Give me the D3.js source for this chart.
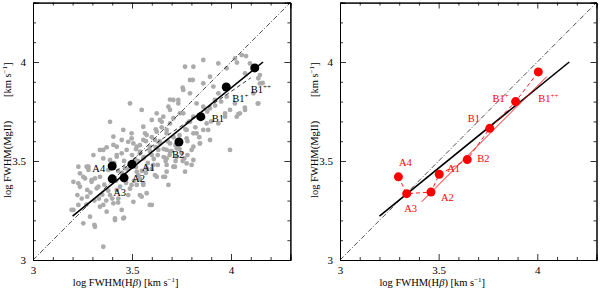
<!DOCTYPE html>
<html>
<head>
<meta charset="utf-8">
<script src="https://cdn.jsdelivr.net/npm/d3@7"></script>
<style>
  body { margin: 0; background: #fff; }
  text { font-family: "Liberation Serif", "DejaVu Serif", serif; }
</style>
</head>
<body>
<div id="chart"></div>
<script>
// Tick values
var majorTicks = [3, 3.5, 4];
var minorTicks = [3.1, 3.2, 3.3, 3.4, 3.6, 3.7, 3.8, 3.9, 4.1, 4.2];

// Gray sample, [log FWHM(Hb), log FWHM(MgII)]
var samplePts = [
  [3.195,3.253],[3.229,3.278],[3.246,3.31],[3.224,3.328],[3.274,3.32],[3.288,3.219],[3.31,3.177],
  [3.237,3.37],[3.274,3.354],[3.296,3.395],[3.28,3.455],[3.338,3.42],[3.322,3.362],[3.333,3.31],
  [3.355,3.278],[3.372,3.244],[3.338,3.269],[3.414,3.21],[3.46,3.214],[3.448,3.253],[3.406,3.286],
  [3.431,3.31],[3.389,3.328],[3.423,3.354],[3.481,3.328],[3.507,3.294],[3.54,3.328],[3.59,3.278],
  [3.498,3.379],[3.557,3.379],[3.625,3.42],[3.658,3.42],[3.675,3.446],[3.709,3.471],[3.756,3.5],
  [3.764,3.513],[3.801,3.48],[3.675,3.513],[3.608,3.48],[3.574,3.463],[3.6,3.53],[3.557,3.513],
  [3.524,3.446],[3.515,3.505],[3.54,3.547],[3.633,3.556],[3.692,3.547],[3.726,3.564],[3.229,3.471],
  [3.254,3.42],[3.204,3.395],[3.38,3.455],[3.338,3.556],[3.355,3.513],[3.389,3.505],[3.448,3.539],
  [3.473,3.556],[3.423,3.572],[3.204,3.253],[3.254,3.185],[3.313,3.168],[3.355,3.067],[3.414,3.202],
  [3.456,3.21],[3.6,3.278],[3.549,3.32],[3.574,3.337],[3.229,3.387],[3.263,3.412],[3.28,3.471],
  [3.313,3.412],[3.423,3.53],[3.465,3.463],[3.524,3.379],[3.532,3.429],[3.557,3.387],[3.616,3.429],
  [3.49,3.791],[3.549,3.758],[3.389,3.698],[3.456,3.657],[3.481,3.597],[3.574,3.631],[3.625,3.648],
  [3.675,3.657],[3.641,3.707],[3.709,3.716],[3.759,3.741],[3.793,3.698],[3.81,3.64],[3.776,3.614],
  [3.86,3.657],[3.843,3.589],[3.801,3.556],[3.726,3.522],[3.355,3.556],[3.305,3.53],[3.271,3.471],
  [3.237,3.438],[3.296,3.404],[3.423,3.522],[3.54,3.539],[3.59,3.572],[3.641,3.589],[3.692,3.589],
  [3.675,3.556],[3.507,3.589],[3.448,3.606],[3.406,3.623],[3.498,3.64],[3.557,3.673],[3.6,3.707],
  [3.625,3.741],[3.684,3.774],[3.734,3.791],[3.81,3.976],[3.86,4.01],[3.734,3.808],[3.793,3.909],
  [3.86,3.892],[3.894,3.926],[3.936,3.993],[3.978,3.968],[4.02,4.018],[4.054,4.035],[4.096,3.993],
  [4.071,3.943],[4.138,3.918],[4.146,3.892],[4.113,3.842],[4.138,3.791],[4.071,3.758],[4.045,3.741],
  [4.02,3.791],[3.978,3.825],[3.936,3.842],[3.911,3.876],[3.919,3.808],[3.995,3.758],[3.97,3.724],
  [4.029,3.724],[3.894,3.766],[3.86,3.774],[3.826,3.791],[3.793,3.842],[3.759,3.859],[3.709,3.808],
  [3.692,3.758],[3.742,3.741],[3.81,3.724],[3.877,3.69],[3.936,3.69],[3.885,3.657],[3.826,3.64],
  [3.776,3.657],[3.692,3.69],[3.658,3.724],[3.675,3.64],[3.843,3.589],[3.894,3.606],[3.81,3.572],
  [3.995,3.556],[3.372,3.569],[3.406,3.581],[3.498,3.614],[3.566,3.64],[3.557,3.606],[3.524,3.572],
  [3.65,3.698],[3.616,3.606],[3.81,3.505],[3.776,3.488],[3.768,3.446],[3.667,3.42],[3.684,3.379],
  [3.717,3.471],[3.675,3.48],[3.768,3.976],[3.807,3.909],[3.692,3.81],[3.756,3.87],[4.076,4.03],
  [4.03,3.997],[4.146,3.934],[4.16,3.894],[4.135,3.79],[4.07,3.77],[4.037,3.737],
  [3.36,3.38],[3.38,3.35],[3.42,3.40],[3.44,3.37],[3.45,3.44],[3.47,3.39],[3.48,3.46],[3.52,3.47],
  [3.53,3.50],[3.55,3.45],[3.56,3.52],[3.58,3.49],[3.59,3.55],[3.61,3.51],[3.62,3.57],[3.63,3.53],
  [3.64,3.60],[3.66,3.56],[3.67,3.50],[3.68,3.60],[3.70,3.55],[3.71,3.62],[3.72,3.58],[3.74,3.63],
  [3.75,3.54],[3.77,3.66],[3.78,3.60],[3.79,3.70],[3.82,3.67],[3.84,3.62],[3.86,3.72],[3.88,3.75],
  [3.90,3.70],[3.92,3.78],[3.95,3.80],[3.97,3.74],[3.39,3.46],[3.41,3.49],[3.43,3.45],[3.46,3.50],
  [3.50,3.53],[3.52,3.56],[3.54,3.58],[3.57,3.60],[3.60,3.62],[3.62,3.66],[3.65,3.67],[3.35,3.33],
  [3.33,3.37],[3.31,3.30],[3.29,3.34],[3.27,3.28],[3.37,3.30],[3.40,3.31],[3.43,3.29],[3.49,3.36],
  [3.51,3.40],[3.54,3.41],[3.57,3.44],[3.60,3.46],[3.63,3.48],[3.66,3.52],[3.69,3.53],[3.72,3.50],
  [3.74,3.56],[3.78,3.53]
];

// Binned values
var binNames = ["A4", "A3", "A2", "A1", "B2", "B1", "B1+", "B1++"];
var binX = [3.40, 3.40, 3.46, 3.50, 3.737, 3.847, 3.976, 4.12];
var binY = [3.475, 3.41, 3.415, 3.483, 3.596, 3.724, 3.874, 3.97];
var redX = [3.296, 3.338, 3.461, 3.503, 3.645, 3.759, 3.89, 4.005];
var redY = [3.42, 3.335, 3.343, 3.433, 3.507, 3.665, 3.80, 3.95];

// Lines: [x1, y1, x2, y2]
var oneToOne = [3, 3, 4.3, 4.3];
var fitLine = [3.2, 3.222, 4.162, 4.0];
var binFitLine = [3.42, 3.45, 4.10, 3.92];
var redFitLine = [3.414, 3.294, 4.048, 3.926];

// label offsets in px [dx, dy, anchor]
var leftLabelPos = [[-7,6,"end"],[1,17,"start"],[8,4,"start"],[10,7,"start"],[-7,16,"start"],[11,5,"start"],[6,15,"start"],[-4,25,"start"]];
var rightLabelPos = [[7,-11,"middle"],[4,18,"middle"],[10,9,"start"],[8,-2,"start"],[10,2,"start"],[-22,-6,"start"],[-23,0,"start"],[0,30,"start"]];

var svgWidth = 600, svgHeight = 290;

var svg = d3.select("#chart").append("svg")
  .attr("width", svgWidth)
  .attr("height", svgHeight);

var y = d3.scaleLinear().domain([3, 4.3]).range([260, 2.6]);

function drawFrame(g, x) {
  var x0 = x.range()[0], x1 = x.range()[1];
  var y0 = y.range()[0], y1 = y.range()[1];

  // ticks on all four sides pointing inward
  g.append("g").attr("transform", `translate(0,${y0})`)
    .call(d3.axisBottom(x).tickValues(minorTicks).tickSize(-3).tickFormat(""));
  g.append("g").attr("transform", `translate(0,${y0})`)
    .call(d3.axisBottom(x).tickValues(majorTicks).tickSize(-6).tickPadding(6).tickFormat(d3.format("")));
  g.append("g").attr("transform", `translate(0,${y1})`)
    .call(d3.axisTop(x).tickValues(minorTicks).tickSize(-3).tickFormat(""));
  g.append("g").attr("transform", `translate(0,${y1})`)
    .call(d3.axisTop(x).tickValues(majorTicks).tickSize(-6).tickFormat(""));

  g.append("g").attr("transform", `translate(${x0},0)`)
    .call(d3.axisLeft(y).tickValues(minorTicks).tickSize(-3).tickFormat(""));
  g.append("g").attr("transform", `translate(${x0},0)`)
    .call(d3.axisLeft(y).tickValues(majorTicks).tickSize(-6).tickPadding(7).tickFormat(d3.format("")));
  g.append("g").attr("transform", `translate(${x1},0)`)
    .call(d3.axisRight(y).tickValues(minorTicks).tickSize(-3).tickFormat(""));
  g.append("g").attr("transform", `translate(${x1},0)`)
    .call(d3.axisRight(y).tickValues(majorTicks).tickSize(-6).tickFormat(""));

  g.selectAll(".domain").attr("stroke", "#000").attr("stroke-width", 1);
  g.selectAll(".tick line").attr("stroke", "#000").attr("stroke-width", 0.8);
  g.selectAll(".tick text").attr("font-size", "11px").attr("font-family", "Liberation Serif").attr("fill", "#000");

  // axis titles
  var xt = g.append("text")
    .attr("x", (x0 + x1) / 2 - 36)
    .attr("y", 286)
    .attr("text-anchor", "middle")
    .attr("font-size", "10.5px");
  xt.append("tspan").text("log FWHM(H");
  xt.append("tspan").attr("font-style", "italic").text("β");
  xt.append("tspan").text(")  [km s");
  xt.append("tspan").attr("dy", -4).attr("font-size", "7px").text("−1");
  xt.append("tspan").attr("dy", 4).text("]");

  // y title comes in two pieces with a wide gap
  g.append("text")
    .attr("transform", `translate(${x0 - 22},198) rotate(-90)`)
    .attr("font-size", "10.5px")
    .text("log FWHM(MgII)");

  var yt = g.append("text")
    .attr("transform", `translate(${x0 - 22},97) rotate(-90)`)
    .attr("font-size", "10.5px");
  yt.append("tspan").text("[km s");
  yt.append("tspan").attr("dy", -4).attr("font-size", "7px").text("−1");
  yt.append("tspan").attr("dy", 4).text("]");
}

function drawSeg(g, x, seg) {
  return g.append("line")
    .attr("x1", x(seg[0])).attr("y1", y(seg[1]))
    .attr("x2", x(seg[2])).attr("y2", y(seg[3]));
}

function drawLabels(g, x, xs, ys, pos, color) {
  binNames.forEach(function(name, i) {
    var t = g.append("text")
      .attr("x", x(xs[i]) + pos[i][0])
      .attr("y", y(ys[i]) + pos[i][1])
      .attr("text-anchor", pos[i][2])
      .attr("font-size", "10.5px")
      .attr("fill", color);
    var base = name.replace(/\+/g, "");
    var sup = name.slice(base.length);
    t.append("tspan").text(base);
    if (sup) t.append("tspan").attr("dy", -4).attr("font-size", "7px").text(sup);
  });
}

// Left panel
var xLeft = d3.scaleLinear().domain([3, 4.3]).range([33, 290.4]);
var left = svg.append("g");

left.selectAll(".sample")
  .data(samplePts)
  .enter()
  .append("circle")
  .classed("sample", true)
  .attr("cx", d => xLeft(d[0]))
  .attr("cy", d => y(d[1]))
  .attr("r", 2.4)
  .attr("fill", "#ababab");

drawSeg(left, xLeft, oneToOne).attr("stroke", "#000").attr("stroke-width", 0.7).attr("stroke-dasharray", "5,2,1,2");
drawSeg(left, xLeft, binFitLine).attr("stroke", "#000").attr("stroke-width", 0.8).attr("stroke-dasharray", "4,3");
drawSeg(left, xLeft, fitLine).attr("stroke", "#000").attr("stroke-width", 1.6);

left.selectAll(".bin")
  .data(binX)
  .enter()
  .append("circle")
  .classed("bin", true)
  .attr("cx", (d, i) => xLeft(binX[i]))
  .attr("cy", (d, i) => y(binY[i]))
  .attr("r", 4.5)
  .attr("fill", "#000");

drawLabels(left, xLeft, binX, binY, leftLabelPos, "#000");
drawFrame(left, xLeft);

// Right panel
var xRight = d3.scaleLinear().domain([3, 4.3]).range([340, 596.5]);
var right = svg.append("g");

drawSeg(right, xRight, oneToOne).attr("stroke", "#000").attr("stroke-width", 0.7).attr("stroke-dasharray", "5,2,1,2");
drawSeg(right, xRight, fitLine).attr("stroke", "#000").attr("stroke-width", 1.6);
drawSeg(right, xRight, redFitLine).attr("stroke", "#f00").attr("stroke-width", 0.9);

right.append("path")
  .datum(redX)
  .attr("d", d3.line().x((d, i) => xRight(redX[i])).y((d, i) => y(redY[i])))
  .attr("fill", "none")
  .attr("stroke", "#f00")
  .attr("stroke-width", 0.9)
  .attr("stroke-dasharray", "4,3");

right.selectAll(".red")
  .data(redX)
  .enter()
  .append("circle")
  .classed("red", true)
  .attr("cx", (d, i) => xRight(redX[i]))
  .attr("cy", (d, i) => y(redY[i]))
  .attr("r", 4.5)
  .attr("fill", "#f00");

drawLabels(right, xRight, redX, redY, rightLabelPos, "#f00");
drawFrame(right, xRight);
</script>
</body>
</html>
